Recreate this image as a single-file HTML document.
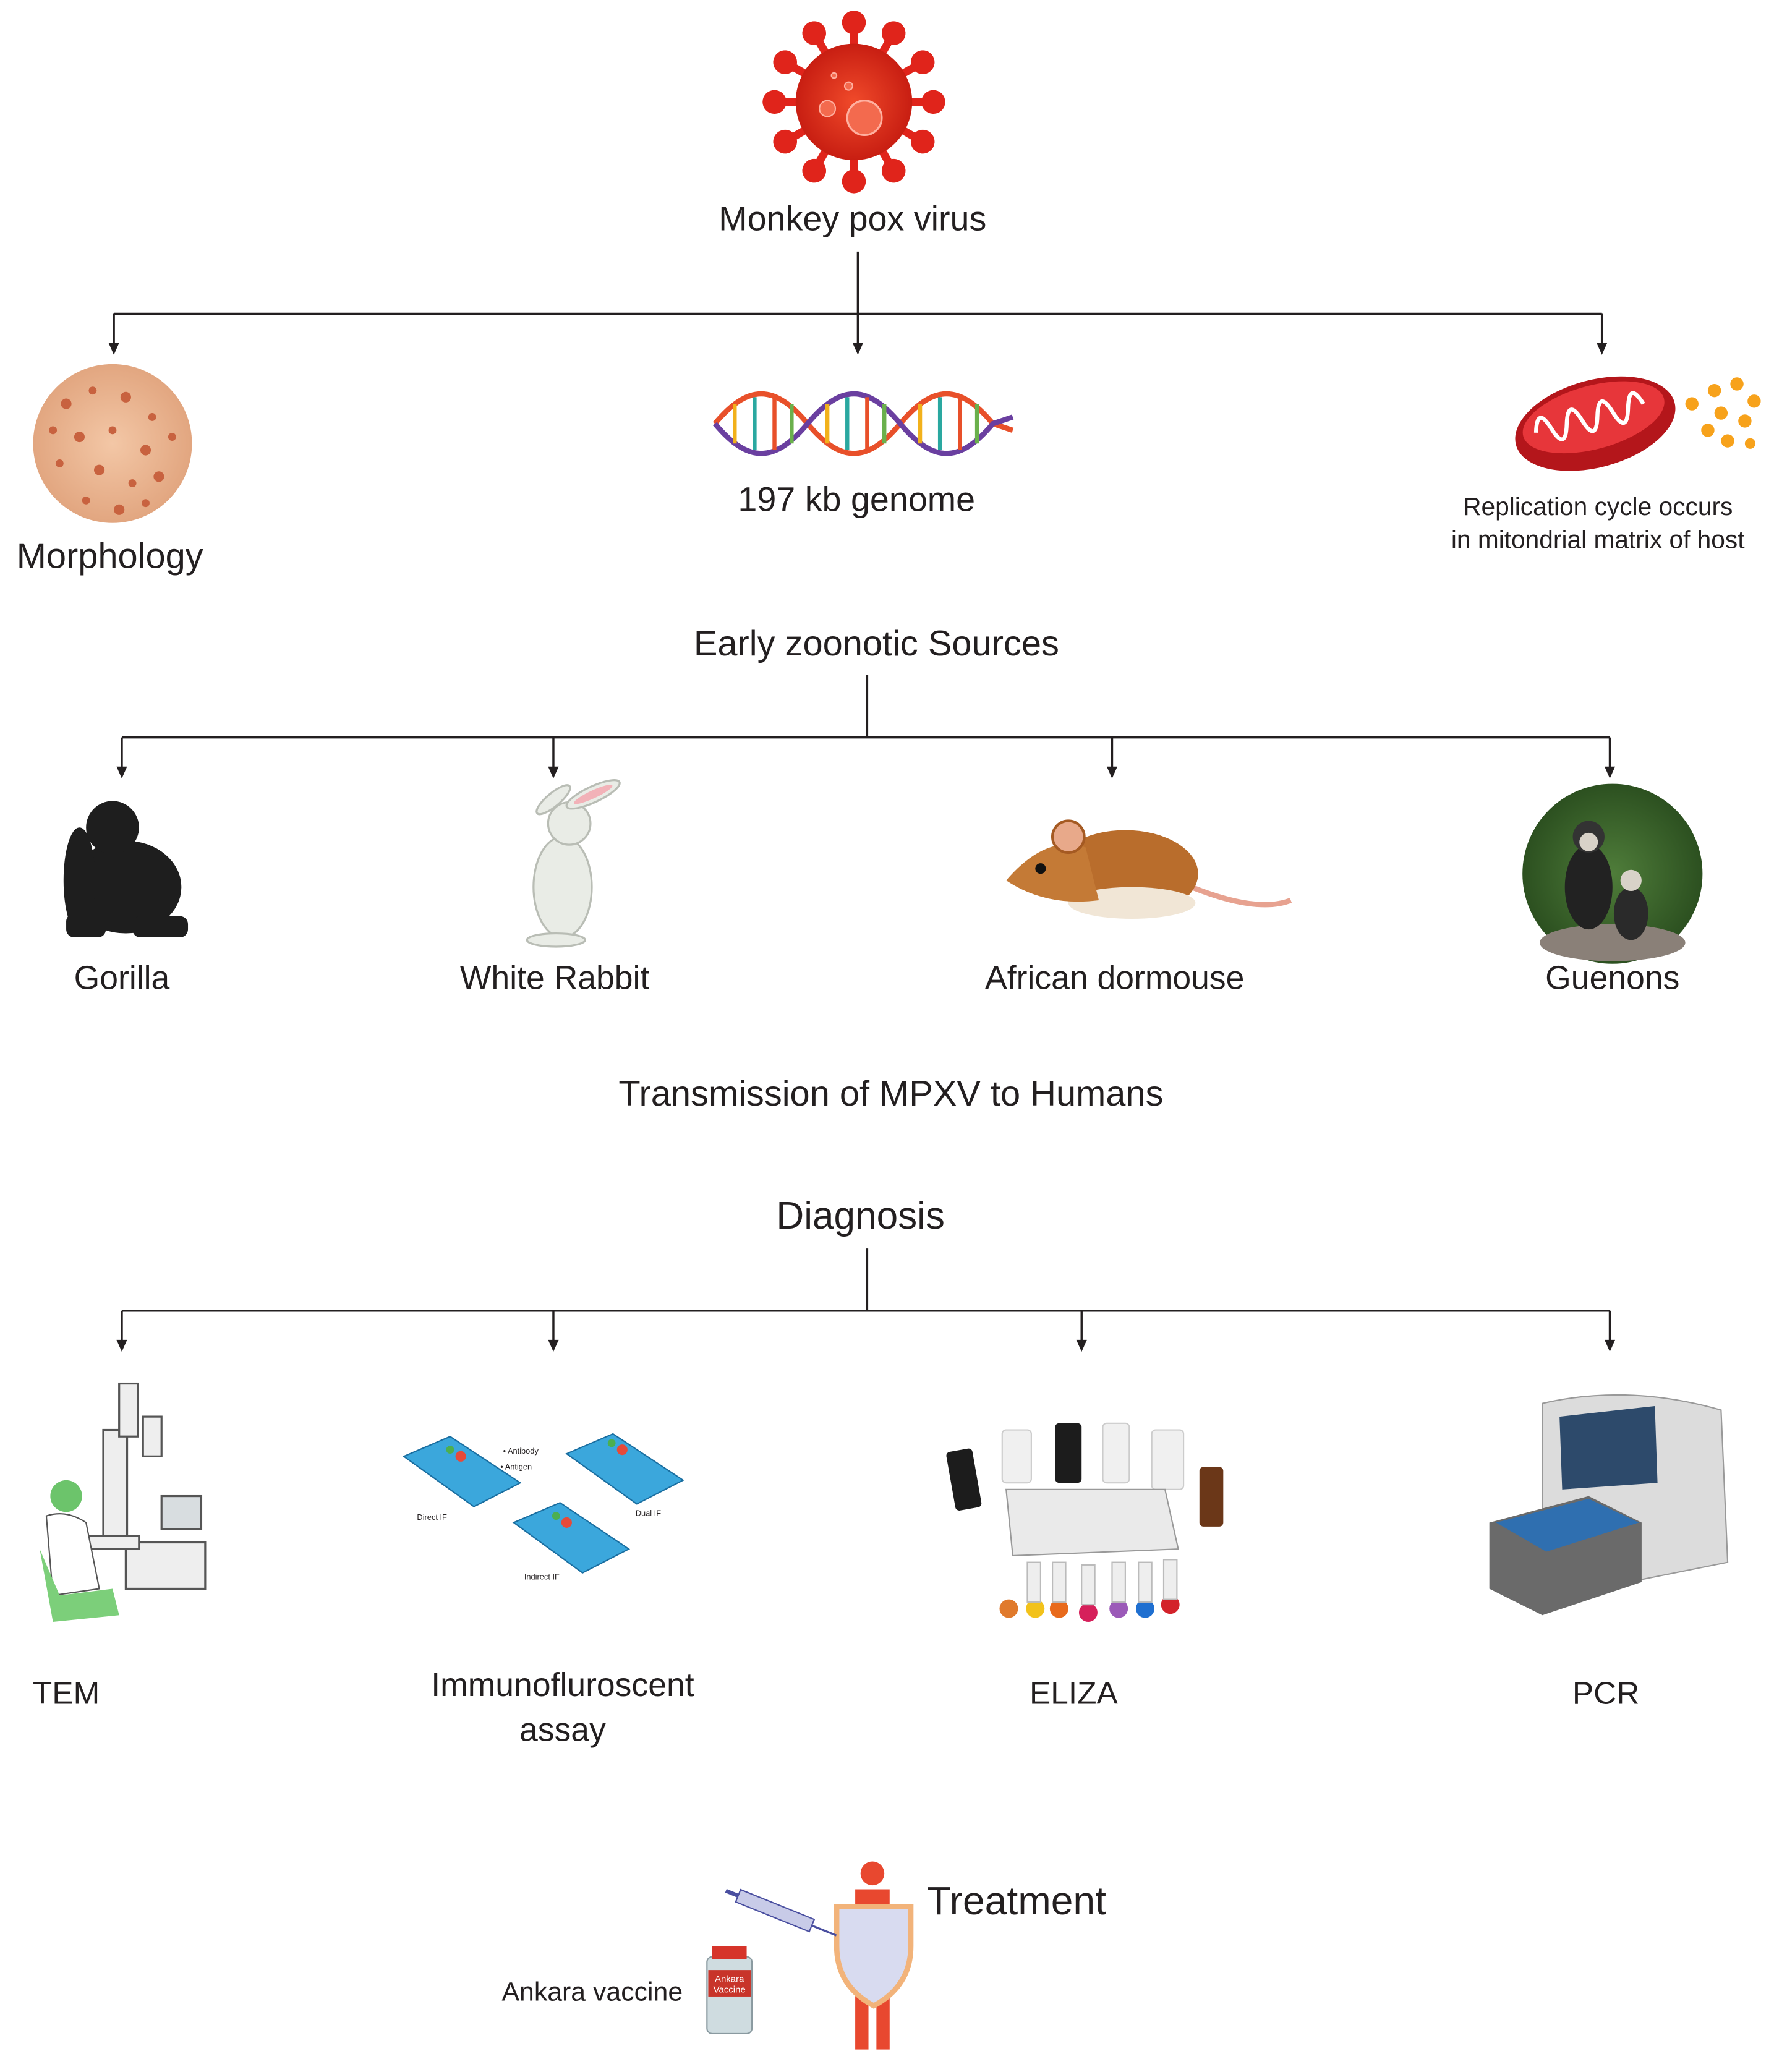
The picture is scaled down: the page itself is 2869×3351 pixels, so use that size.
<!DOCTYPE html>
<html><head><meta charset="utf-8"><style>
html,body{margin:0;padding:0;background:#fff;}
svg{display:block}
text{font-family:"Liberation Sans",sans-serif;fill:#231f20}
</style></head><body>
<svg width="2869" height="3351" viewBox="0 0 1340 1565" preserveAspectRatio="none" xmlns="http://www.w3.org/2000/svg">
<defs>
<radialGradient id="vg" cx="0.5" cy="0.5" r="0.5"><stop offset="0" stop-color="#f04a2a"/><stop offset="1" stop-color="#c81e12"/></radialGradient>
<radialGradient id="mg" cx="0.5" cy="0.5" r="0.5"><stop offset="0" stop-color="#f3c7a6"/><stop offset="1" stop-color="#e2a680"/></radialGradient>
<radialGradient id="gg" cx="0.5" cy="0.5" r="0.5"><stop offset="0" stop-color="#4f7d3a"/><stop offset="1" stop-color="#2c5020"/></radialGradient>
</defs>
<rect width="1340" height="1565" fill="#fff"/>

<!-- Virus -->
<g fill="#e0241b">
<g transform="translate(645,77)">
<g id="sp"><rect x="-3" y="-58" width="6" height="18"/><circle cx="0" cy="-60" r="9"/></g>
<use href="#sp" transform="rotate(30)"/><use href="#sp" transform="rotate(60)"/><use href="#sp" transform="rotate(90)"/>
<use href="#sp" transform="rotate(120)"/><use href="#sp" transform="rotate(150)"/><use href="#sp" transform="rotate(180)"/>
<use href="#sp" transform="rotate(210)"/><use href="#sp" transform="rotate(240)"/><use href="#sp" transform="rotate(270)"/>
<use href="#sp" transform="rotate(300)"/><use href="#sp" transform="rotate(330)"/>
<circle r="44" fill="url(#vg)"/>
<circle cx="8" cy="12" r="13" fill="#f36a4e" stroke="#ffb0a0" stroke-width="1.5"/>
<circle cx="-20" cy="5" r="6" fill="#f36a4e" stroke="#ffb0a0"/>
<circle cx="-4" cy="-12" r="3" fill="#f36a4e" stroke="#ffb0a0"/>
<circle cx="-15" cy="-20" r="2" fill="#f36a4e" stroke="#ffb0a0"/>
</g></g>
<text x="644" y="174" font-size="26" text-anchor="middle">Monkey pox virus</text>

<!-- connectors -->
<g stroke="#231f20" stroke-width="1.6" fill="none">
<path d="M648,190 L648,262"/>
<path d="M86,237 L1210,237"/>
<path d="M86,237 L86,262"/>
<path d="M1210,237 L1210,262"/>
<path d="M655,510 L655,557"/>
<path d="M92,557 L1216,557"/>
<path d="M92,557 L92,582"/>
<path d="M418,557 L418,582"/>
<path d="M840,557 L840,582"/>
<path d="M1216,557 L1216,582"/>
<path d="M655,943 L655,990"/>
<path d="M92,990 L1216,990"/>
<path d="M92,990 L92,1015"/>
<path d="M418,990 L418,1015"/>
<path d="M817,990 L817,1015"/>
<path d="M1216,990 L1216,1015"/>
</g>
<g fill="#231f20">
<path d="M82,259 L90,259 L86,268 Z"/><path d="M644,259 L652,259 L648,268 Z"/><path d="M1206,259 L1214,259 L1210,268 Z"/>
<path d="M88,579 L96,579 L92,588 Z"/><path d="M414,579 L422,579 L418,588 Z"/><path d="M836,579 L844,579 L840,588 Z"/><path d="M1212,579 L1220,579 L1216,588 Z"/>
<path d="M88,1012 L96,1012 L92,1021 Z"/><path d="M414,1012 L422,1012 L418,1021 Z"/><path d="M813,1012 L821,1012 L817,1021 Z"/><path d="M1212,1012 L1220,1012 L1216,1021 Z"/>
</g>

<!-- Morphology -->
<circle cx="85" cy="335" r="60" fill="url(#mg)"/>
<g fill="#c8623f">
<circle cx="50" cy="305" r="4"/><circle cx="70" cy="295" r="3"/><circle cx="95" cy="300" r="4"/><circle cx="115" cy="315" r="3"/>
<circle cx="60" cy="330" r="4"/><circle cx="85" cy="325" r="3"/><circle cx="110" cy="340" r="4"/><circle cx="130" cy="330" r="3"/>
<circle cx="45" cy="350" r="3"/><circle cx="75" cy="355" r="4"/><circle cx="100" cy="365" r="3"/><circle cx="120" cy="360" r="4"/>
<circle cx="65" cy="378" r="3"/><circle cx="90" cy="385" r="4"/><circle cx="110" cy="380" r="3"/><circle cx="40" cy="325" r="3"/>
</g>
<text x="83" y="429" font-size="27" text-anchor="middle">Morphology</text>

<!-- DNA -->
<g fill="none" stroke-width="4">
<path d="M540,320 C565,290 585,290 610,320 S655,350 680,320 S725,290 750,320 L765,325" stroke="#e8502a"/>
<path d="M540,320 C565,350 585,350 610,320 S655,290 680,320 S725,350 750,320 L765,315" stroke="#6a3fa0"/>
</g>
<g stroke-width="3">
<line x1="555" y1="305" x2="555" y2="335" stroke="#f2b11b"/><line x1="570" y1="300" x2="570" y2="340" stroke="#2aa8a0"/>
<line x1="585" y1="300" x2="585" y2="340" stroke="#e8502a"/><line x1="598" y1="305" x2="598" y2="335" stroke="#6ab04c"/>
<line x1="625" y1="305" x2="625" y2="335" stroke="#f2b11b"/><line x1="640" y1="300" x2="640" y2="340" stroke="#2aa8a0"/>
<line x1="655" y1="300" x2="655" y2="340" stroke="#e8502a"/><line x1="668" y1="305" x2="668" y2="335" stroke="#6ab04c"/>
<line x1="695" y1="305" x2="695" y2="335" stroke="#f2b11b"/><line x1="710" y1="300" x2="710" y2="340" stroke="#2aa8a0"/>
<line x1="725" y1="300" x2="725" y2="340" stroke="#e8502a"/><line x1="738" y1="305" x2="738" y2="335" stroke="#6ab04c"/>
</g>
<text x="647" y="386" font-size="26" text-anchor="middle">197 kb genome</text>

<!-- Mitochondria -->
<g transform="rotate(-15 1205 320)">
<ellipse cx="1205" cy="320" rx="62" ry="33" fill="#b4161b"/>
<ellipse cx="1205" cy="315" rx="55" ry="24" fill="#e7363a"/>
<path d="M1160,315 q6,-20 12,0 q6,20 12,0 q6,-20 12,0 q6,20 12,0 q6,-20 12,0 q6,20 12,0 q6,-20 12,0" stroke="#fff" stroke-width="3" fill="none"/>
</g>
<g fill="#f7a21b">
<circle cx="1278" cy="305" r="5"/><circle cx="1295" cy="295" r="5"/><circle cx="1312" cy="290" r="5"/><circle cx="1325" cy="303" r="5"/>
<circle cx="1300" cy="312" r="5"/><circle cx="1318" cy="318" r="5"/><circle cx="1290" cy="325" r="5"/><circle cx="1305" cy="333" r="5"/><circle cx="1322" cy="335" r="4"/>
</g>
<text x="1207" y="389" font-size="19" text-anchor="middle">Replication cycle occurs</text>
<text x="1207" y="414" font-size="19" text-anchor="middle">in mitondrial matrix of host</text>

<text x="662" y="495" font-size="27" text-anchor="middle">Early zoonotic Sources</text>

<!-- Gorilla -->
<g fill="#1e1e1e">
<ellipse cx="95" cy="670" rx="42" ry="35"/>
<circle cx="85" cy="625" r="20"/>
<ellipse cx="60" cy="665" rx="12" ry="40"/>
<rect x="50" y="690" width="30" height="18" rx="6"/><rect x="100" y="692" width="42" height="16" rx="6"/>
</g>
<text x="92" y="747" font-size="25" text-anchor="middle">Gorilla</text>

<!-- Rabbit -->
<g fill="#e9ece6" stroke="#b9bdb5" stroke-width="1.5">
<ellipse cx="425" cy="670" rx="22" ry="38"/>
<circle cx="430" cy="622" r="16"/>
<ellipse cx="448" cy="600" rx="22" ry="6" transform="rotate(-25 448 600)"/>
<ellipse cx="418" cy="604" rx="16" ry="5" transform="rotate(-40 418 604)"/>
<ellipse cx="420" cy="710" rx="22" ry="5"/>
</g>
<ellipse cx="448" cy="600" rx="16" ry="3" transform="rotate(-25 448 600)" fill="#f2b2b8"/>
<text x="419" y="747" font-size="25" text-anchor="middle">White Rabbit</text>

<!-- Dormouse -->
<path d="M900,670 Q950,690 975,680" stroke="#e7a290" stroke-width="4" fill="none"/>
<ellipse cx="850" cy="660" rx="55" ry="33" fill="#b96d2c"/>
<ellipse cx="855" cy="682" rx="48" ry="12" fill="#f1e6d6"/>
<path d="M760,665 Q790,630 820,640 L830,680 Q790,685 760,665 Z" fill="#c47a36"/>
<circle cx="807" cy="632" r="12" fill="#e8a98a" stroke="#a55a22" stroke-width="2"/>
<circle cx="786" cy="656" r="4" fill="#111"/>
<text x="842" y="747" font-size="25" text-anchor="middle">African dormouse</text>

<!-- Guenons -->
<circle cx="1218" cy="660" r="68" fill="url(#gg)"/>
<ellipse cx="1218" cy="712" rx="55" ry="14" fill="#8a8078"/>
<ellipse cx="1200" cy="670" rx="18" ry="32" fill="#222"/>
<circle cx="1200" cy="632" r="12" fill="#333"/><circle cx="1200" cy="636" r="7" fill="#d8d2c8"/>
<ellipse cx="1232" cy="690" rx="13" ry="20" fill="#2a2a2a"/><circle cx="1232" cy="665" r="8" fill="#d8d2c8"/>
<text x="1218" y="747" font-size="25" text-anchor="middle">Guenons</text>

<text x="673" y="835" font-size="27" text-anchor="middle">Transmission of MPXV to Humans</text>
<text x="650" y="928" font-size="29" text-anchor="middle">Diagnosis</text>

<!-- TEM -->
<g stroke="#555" stroke-width="1.5" fill="#eee">
<rect x="78" y="1080" width="18" height="90"/><rect x="90" y="1045" width="14" height="40"/>
<rect x="108" y="1070" width="14" height="30"/>
<rect x="95" y="1165" width="60" height="35"/>
<rect x="122" y="1130" width="30" height="25" fill="#d8dde0"/>
<rect x="55" y="1160" width="50" height="10"/>
</g>
<circle cx="50" cy="1130" r="12" fill="#6cc46b"/>
<path d="M35,1145 Q50,1140 65,1150 L75,1200 L40,1205 Z" fill="#fff" stroke="#555"/>
<path d="M30,1170 L40,1225 L90,1220 L85,1200 L45,1205 Z" fill="#7ccf7a"/>
<text x="50" y="1287" font-size="24" text-anchor="middle">TEM</text>

<!-- Immunofluorescent -->
<g fill="#3ba7dc" stroke="#1a6ea0" stroke-width="1">
<polygon points="305,1100 340,1085 393,1120 358,1138"/>
<polygon points="428,1098 463,1083 516,1118 481,1136"/>
<polygon points="388,1150 423,1135 475,1170 440,1188"/>
</g>
<g fill="#e64a3a"><circle cx="348" cy="1100" r="4"/><circle cx="470" cy="1095" r="4"/><circle cx="428" cy="1150" r="4"/></g>
<g fill="#4caf50"><circle cx="340" cy="1095" r="3"/><circle cx="462" cy="1090" r="3"/><circle cx="420" cy="1145" r="3"/></g>
<text x="380" y="1098" font-size="6">• Antibody</text><text x="378" y="1110" font-size="6">• Antigen</text>
<text x="315" y="1148" font-size="6">Direct IF</text><text x="480" y="1145" font-size="6">Dual IF</text><text x="396" y="1193" font-size="6">Indirect IF</text>
<text x="425" y="1281" font-size="25" text-anchor="middle">Immunofluroscent</text>
<text x="425" y="1315" font-size="25" text-anchor="middle">assay</text>

<!-- ELIZA -->
<g>
<rect x="718" y="1095" width="20" height="45" rx="3" fill="#1c1c1c" transform="rotate(-10 728 1117)"/>
<rect x="757" y="1080" width="22" height="40" rx="3" fill="#f0f0f0" stroke="#ccc"/>
<rect x="797" y="1075" width="20" height="45" rx="3" fill="#1c1c1c"/>
<rect x="833" y="1075" width="20" height="45" rx="3" fill="#f0f0f0" stroke="#ccc"/>
<rect x="870" y="1080" width="24" height="45" rx="3" fill="#f0f0f0" stroke="#ccc"/>
<rect x="906" y="1108" width="18" height="45" rx="3" fill="#6b3718"/>
<polygon points="760,1125 880,1125 890,1170 765,1175" fill="#eaeaea" stroke="#999"/>
<circle cx="762" cy="1215" r="7" fill="#e07a2c"/>
<circle cx="782" cy="1215" r="7" fill="#f2c21b"/><circle cx="800" cy="1215" r="7" fill="#e86a1c"/>
<circle cx="822" cy="1218" r="7" fill="#d6205b"/><circle cx="845" cy="1215" r="7" fill="#9b5ab8"/>
<circle cx="865" cy="1215" r="7" fill="#1f6fd0"/><circle cx="884" cy="1212" r="7" fill="#d3222a"/>
<g fill="#eee" stroke="#bbb"><rect x="776" y="1180" width="10" height="30"/><rect x="795" y="1180" width="10" height="30"/><rect x="817" y="1182" width="10" height="30"/><rect x="840" y="1180" width="10" height="30"/><rect x="860" y="1180" width="10" height="30"/><rect x="879" y="1178" width="10" height="30"/></g>
</g>
<text x="811" y="1287" font-size="24" text-anchor="middle">ELIZA</text>

<!-- PCR -->
<path d="M1165,1060 Q1230,1045 1300,1065 L1305,1180 L1205,1200 L1165,1165 Z" fill="#dcdcdc" stroke="#999"/>
<polygon points="1178,1070 1250,1062 1252,1120 1180,1125" fill="#2d4a6b"/>
<polygon points="1125,1150 1200,1130 1240,1150 1240,1195 1165,1220 1125,1200" fill="#6a6a6a"/>
<polygon points="1130,1150 1200,1132 1238,1150 1168,1172" fill="#2f6fb0"/>
<text x="1213" y="1287" font-size="24" text-anchor="middle">PCR</text>

<!-- Treatment -->
<circle cx="659" cy="1415" r="9" fill="#e8482f"/>
<rect x="646" y="1427" width="26" height="40" fill="#e8482f"/>
<rect x="646" y="1490" width="10" height="58" fill="#e8482f"/><rect x="662" y="1490" width="10" height="58" fill="#e8482f"/>
<path d="M632,1440 L688,1440 L688,1470 Q688,1500 660,1515 Q632,1500 632,1470 Z" fill="#d8dbf0" stroke="#f2b37a" stroke-width="4"/>
<g transform="rotate(22 590 1445)">
<rect x="555" y="1440" width="60" height="10" fill="#c8cbe8" stroke="#4a4fa0"/>
<line x1="545" y1="1445" x2="555" y2="1445" stroke="#4a4fa0" stroke-width="3"/>
<line x1="615" y1="1445" x2="635" y2="1445" stroke="#4a4fa0" stroke-width="1.5"/>
</g>
<rect x="534" y="1478" width="34" height="58" rx="4" fill="#cfdce0" stroke="#8a9aa0"/>
<rect x="538" y="1470" width="26" height="10" fill="#d6342a"/>
<rect x="535" y="1488" width="32" height="20" fill="#c8342a"/>
<text x="551" y="1497" font-size="7" text-anchor="middle" style="fill:#fff">Ankara</text>
<text x="551" y="1505" font-size="7" text-anchor="middle" style="fill:#fff">Vaccine</text>
<text x="700" y="1446" font-size="30">Treatment</text>
<text x="379" y="1511" font-size="20">Ankara vaccine</text>
</svg>
</body></html>
